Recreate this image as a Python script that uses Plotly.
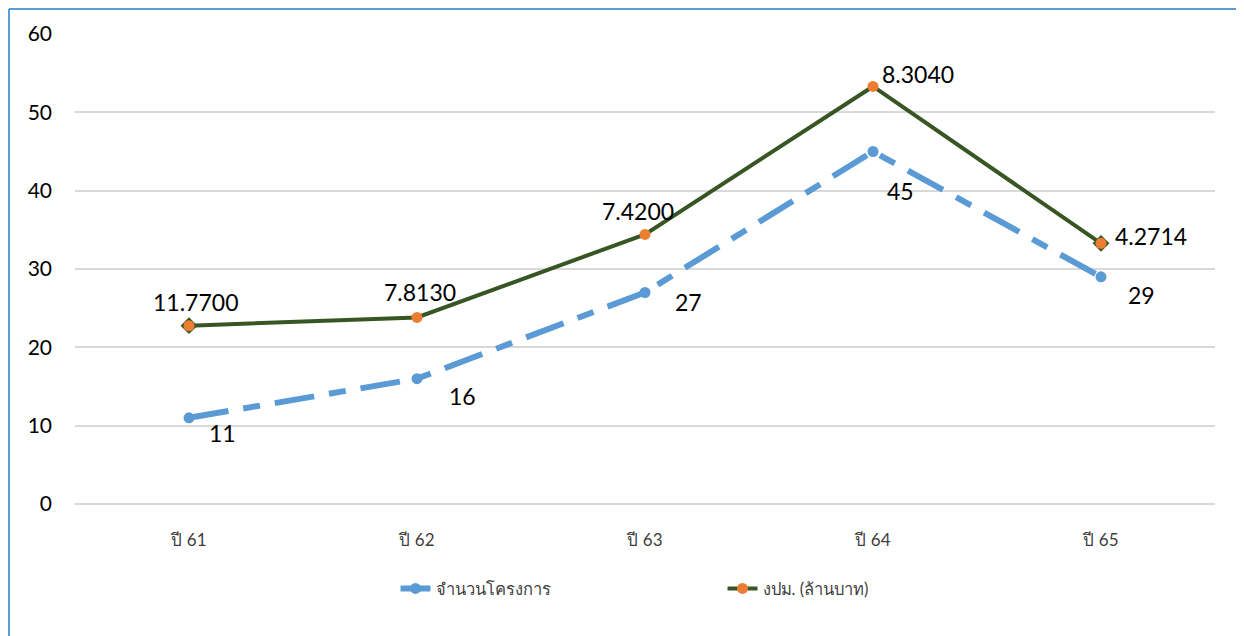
import plotly.graph_objects as go

categories = ["ปี 61", "ปี 62", "ปี 63", "ปี 64", "ปี 65"]
projects = [11, 16, 27, 45, 29]
budget = [11.7700, 7.8130, 7.4200, 8.3040, 4.2714]
budget_labels = ["11.7700", "7.8130", "7.4200", "8.3040", "4.2714"]
y_ticks = [0, 10, 20, 30, 40, 50, 60]

# stacked line: budget line is drawn on top of project count
stacked = [p + b for p, b in zip(projects, budget)]

blue = "#5B9BD5"
green = "#375623"
orange = "#ED7D31"
font_main = "Lato, Carlito, 'Noto Sans', sans-serif"

fig = go.Figure()
fig.add_trace(go.Scatter(
    x=categories, y=projects, mode="lines+markers", name="จำนวนโครงการ",
    line=dict(color=blue, width=6, dash="40px,15px,17px,15px"),
    marker=dict(color=blue, size=11, symbol="circle"),
))
# diamonds at ends of the budget line
fig.add_trace(go.Scatter(
    x=[categories[0], categories[-1]], y=[stacked[0], stacked[-1]], mode="markers",
    marker=dict(color=green, size=13, symbol="diamond"), showlegend=False, hoverinfo="skip",
))
fig.add_trace(go.Scatter(
    x=categories, y=stacked, mode="lines+markers", name="งปม. (ล้านบาท)",
    line=dict(color=green, width=4),
    marker=dict(color=orange, size=11, symbol="circle"),
    customdata=budget, hovertemplate="%{customdata}<extra></extra>",
))

blue_shift = [(33, -15), (45, -17), (43, -9), (27, -39), (40, -18)]
green_shift = [(6, 24), (3, 25), (-7, 23), (45, 12), (50, 7)]
for i, c in enumerate(categories):
    fig.add_annotation(x=c, y=projects[i], text=str(projects[i]), showarrow=False,
                       xshift=blue_shift[i][0], yshift=blue_shift[i][1],
                       font=dict(size=23, color="#000000", family=font_main))
    fig.add_annotation(x=c, y=stacked[i], text=budget_labels[i], showarrow=False,
                       xshift=green_shift[i][0], yshift=green_shift[i][1],
                       font=dict(size=23, color="#000000", family=font_main))

# outer frame (page has an 8px body margin)
W, H = 1236, 628
L, R, T, B = 67, 29, 26, 132
pw, ph = W - L - R, H - T - B
xl = (1 - L) / pw
xr = (W - 4 - L) / pw
yt = 1 + (T - 1) / ph
yb = -(B + 10) / ph
fig.add_shape(type="line", xref="paper", yref="paper", x0=xl, x1=xl, y0=yb, y1=yt,
              line=dict(color=blue, width=2))
fig.add_shape(type="line", xref="paper", yref="paper", x0=xl, x1=xr, y0=yt, y1=yt,
              line=dict(color=blue, width=2))
fig.add_shape(type="line", xref="paper", yref="paper", x0=xr, x1=xr, y0=yb, y1=yt,
              line=dict(color=blue, width=2))

fig.update_layout(
    width=W, height=H,
    margin=dict(l=L, r=R, t=T, b=B),
    paper_bgcolor="white", plot_bgcolor="white",
    font=dict(family=font_main, color="#000000"),
    showlegend=True,
    legend=dict(orientation="h", x=0.568, xanchor="center", y=-0.143, yanchor="top",
                font=dict(size=16.5, color="#404040"), entrywidth=282, entrywidthmode="pixels"),
    xaxis=dict(type="category", range=[-0.5, 4.5], showgrid=False, showline=False,
               ticks="", tickfont=dict(size=17, color="#404040"), ticklabelstandoff=24),
    yaxis=dict(range=[0, 60], tickvals=y_ticks, showgrid=True, gridcolor="#D9D9D9", gridwidth=1.5,
               zeroline=True, zerolinecolor="#D9D9D9", zerolinewidth=1.5, showline=False,
               ticks="", tickfont=dict(size=21, color="#000000"), ticklabelstandoff=22),
)

fig.write_html("out.html")
